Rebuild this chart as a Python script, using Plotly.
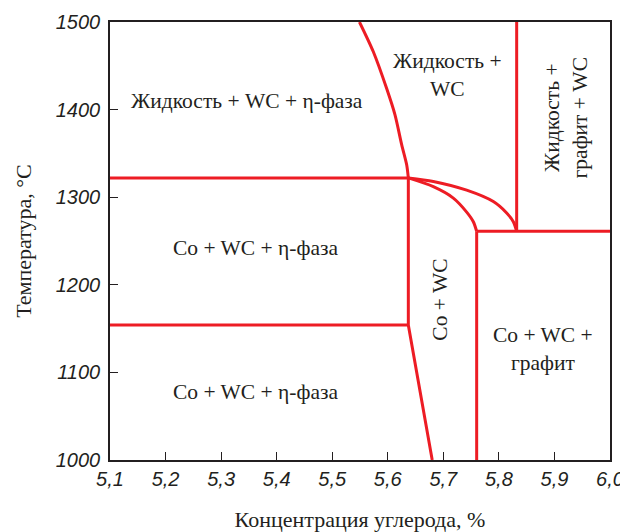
import plotly.graph_objects as go

# ---- data ----
liq_x = [5.549, 5.574, 5.598, 5.613, 5.625, 5.634, 5.637]
liq_y = [1500, 1466, 1424, 1394, 1360, 1337, 1322]

upper_x = [5.637, 5.682, 5.742, 5.790, 5.814, 5.826, 5.832]
upper_y = [1322, 1318, 1308, 1295, 1282, 1272, 1261]

lower_x = [5.637, 5.682, 5.718, 5.742, 5.754, 5.760]
lower_y = [1322, 1312, 1299, 1283, 1272, 1261]

eta_x = [5.637, 5.637, 5.680]
eta_y = [1322, 1154, 1000]

h1325_x = [5.1, 5.637]
h1325_y = [1322, 1322]
h1150_x = [5.1, 5.637]
h1150_y = [1154, 1154]

liqgr_x = [5.832, 5.832]
liqgr_y = [1261, 1500]
h1260_x = [5.760, 6.0]
h1260_y = [1261, 1261]
gr_x = [5.760, 5.760]
gr_y = [1261, 1000]

x_ticks = [5.1, 5.2, 5.3, 5.4, 5.5, 5.6, 5.7, 5.8, 5.9, 6.0]
x_tick_text = ["5,1", "5,2", "5,3", "5,4", "5,5", "5,6", "5,7", "5,8", "5,9", "6,0"]
y_ticks = [1000, 1100, 1200, 1300, 1400, 1500]
y_tick_text = ["1000", "1100", "1200", "1300", "1400", "1500"]

labels = ["Жидкость + WC + η-фаза", "Жидкость +<br>WC", "Жидкость +<br>графит + WC",
          "Co + WC + η-фаза", "Co + WC + η-фаза", "Co + WC", "Co + WC +<br>графит"]
label_x = [5.346, 5.708, 5.921, 5.361, 5.361, 5.694, 5.879]
label_y = [1410, 1440, 1390, 1242, 1078, 1183, 1127]
label_angle = [0, 0, -90, 0, 0, -90, 0]

RED = "#ED1C24"
INK = "#231F20"
SERIF = "Liberation Serif"
SANS = "Liberation Sans"

fig = go.Figure()
segments = [
    (liq_x, liq_y, "spline"), (upper_x, upper_y, "spline"), (lower_x, lower_y, "spline"),
    (eta_x, eta_y, "linear"), (h1325_x, h1325_y, "linear"), (h1150_x, h1150_y, "linear"),
    (liqgr_x, liqgr_y, "linear"), (h1260_x, h1260_y, "linear"), (gr_x, gr_y, "linear"),
]
for xs, ys, shape in segments:
    fig.add_trace(go.Scatter(x=xs, y=ys, mode="lines",
                             line=dict(color=RED, width=3, shape=shape, smoothing=0.8),
                             hoverinfo="skip", showlegend=False, cliponaxis=False))

for t, x, y, a in zip(labels, label_x, label_y, label_angle):
    fig.add_annotation(x=x, y=y, xref="x", yref="y", text=t, showarrow=False,
                       textangle=a, font=dict(family=SERIF, size=21.5, color=INK))

# page body has an 8px margin, so the figure is 8px smaller and shifted
fig.update_layout(
    width=620, height=524,
    margin=dict(l=102, r=18, t=14, b=72, autoexpand=False),
    plot_bgcolor="white", paper_bgcolor="white",
    showlegend=False,
)
fig.update_xaxes(range=[5.1, 6.0], tickvals=x_ticks, ticktext=x_tick_text,
                 ticks="inside", ticklen=8, tickwidth=1.2, tickcolor=INK,
                 showline=True, linecolor=INK, linewidth=1.5, mirror=True,
                 showgrid=False, zeroline=False, automargin=False,
                 tickfont=dict(family=SANS, size=20, color=INK, style="italic"),
                 title=dict(text="Концентрация углерода, %",
                            font=dict(family=SERIF, size=22, color=INK), standoff=28))
fig.update_yaxes(range=[1000, 1500], tickvals=y_ticks, ticktext=y_tick_text,
                 ticks="inside", ticklen=8, tickwidth=1.2, tickcolor=INK,
                 showline=True, linecolor=INK, linewidth=1.5, mirror=True,
                 showgrid=False, zeroline=False, automargin=False,
                 ticklabelstandoff=4,
                 tickfont=dict(family=SANS, size=20, color=INK, style="italic"),
                 title=dict(text="Температура, °С",
                            font=dict(family=SERIF, size=22, color=INK), standoff=18))

fig.write_html("out.html")
